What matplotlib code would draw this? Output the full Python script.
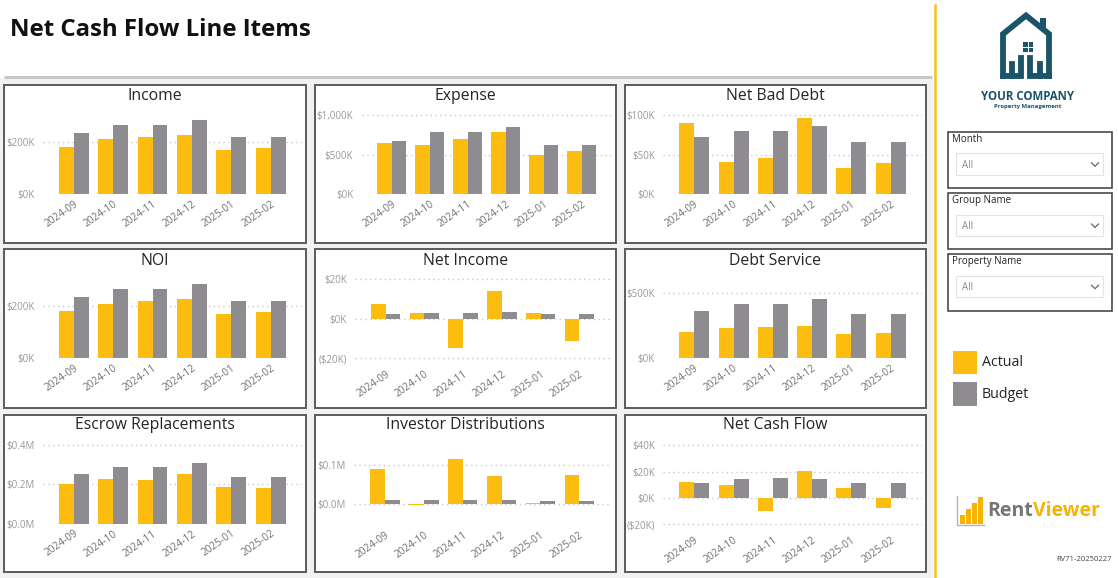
import matplotlib
matplotlib.use("Agg")
import matplotlib.pyplot as plt
import matplotlib.ticker as mticker
from matplotlib.patches import Rectangle
import numpy as np

plt.rcParams['font.family'] = ['Open Sans', 'DejaVu Sans']

# ---------------- data ----------------
months = ['2024-09', '2024-10', '2024-11', '2024-12', '2025-01', '2025-02']

income_actual = [180, 209, 218, 225, 168, 176]          # $K
income_budget = [232, 262, 262, 281, 218, 218]
expense_actual = [646, 628, 704, 785, 501, 548]          # $K
expense_budget = [671, 785, 785, 848, 628, 628]
bad_debt_actual = [90.2, 40.5, 46.3, 96.6, 33.7, 39.6]   # $K
bad_debt_budget = [72.1, 80.5, 80.5, 86.0, 66.6, 66.6]
noi_actual = [180, 209, 219, 227, 169, 176]              # $K
noi_budget = [233, 264, 264, 283, 219, 219]
net_income_actual = [7.6, 3.0, -15.0, 14.2, 2.7, -11.4]  # $K
net_income_budget = [2.4, 3.0, 3.0, 3.5, 2.4, 2.4]
debt_service_actual = [198, 228, 238, 246, 185, 193]     # $K
debt_service_budget = [360, 411, 411, 449, 339, 339]
escrow_actual = [0.203, 0.228, 0.222, 0.253, 0.186, 0.181]  # $M
escrow_budget = [0.250, 0.286, 0.286, 0.309, 0.235, 0.235]
investor_actual = [0.090, -0.002, 0.1145, 0.0704, 0.0025, 0.0738]  # $M
investor_budget = [0.0093, 0.0102, 0.0102, 0.0102, 0.0085, 0.0085]
ncf_actual = [12.2, 9.6, -10.1, 20.3, 7.6, -7.9]         # $K
ncf_budget = [11.2, 14.4, 15.5, 14.4, 11.2, 11.7]

titles = ['Income', 'Expense', 'Net Bad Debt', 'NOI', 'Net Income', 'Debt Service',
          'Escrow Replacements', 'Investor Distributions', 'Net Cash Flow']
actuals = [income_actual, expense_actual, bad_debt_actual, noi_actual, net_income_actual,
           debt_service_actual, escrow_actual, investor_actual, ncf_actual]
budgets = [income_budget, expense_budget, bad_debt_budget, noi_budget, net_income_budget,
           debt_service_budget, escrow_budget, investor_budget, ncf_budget]
units = ['K', 'K', 'K', 'K', 'K', 'K', 'M', 'M', 'K']
yticks = [[0, 200], [0, 500, 1000], [0, 50, 100], [0, 200], [-20, 0, 20], [0, 500],
          [0, 0.2, 0.4], [0, 0.1], [-20, 0, 20, 40]]
legend_labels = ['Actual', 'Budget']

# ---------------- layout (pixels) ----------------
W, H = 1118, 578
YELLOW = '#FDBD10'
GRAY = '#8E8C91'
TEAL = '#1B5468'

col_box = [(4, 305.7), (314.7, 616), (624.7, 926)]
row_box = [(85, 242.5), (249.3, 407.6), (414.7, 571.5)]
title_y = [95.7, 260.7, 424.7]
axes_px = [  # left, top, right, bottom
    (42.7, 110, 301.7, 194.3), (361.7, 110, 611.7, 194.3), (663.3, 110, 921.7, 194.3),
    (42.7, 274, 301.7, 358.3), (355, 274, 610, 364.3), (663.3, 274, 921.7, 358.3),
    (42.7, 440, 301.7, 524.0), (354.3, 440, 610, 525.6), (663.3, 440, 921.7, 530.6),
]
ylims = [(0, 320), (0, 1067), (0, 106.7), (0, 322), (-23.1, 22.6), (0, 642),
         (0, 0.423), (-0.055, 0.163), (-24.8, 44.1)]

fig = plt.figure(figsize=(W / 100, H / 100), dpi=100)
fig.patch.set_facecolor('white')

bg = fig.add_axes([0, 0, 1, 1])
bg.set_xlim(0, W)
bg.set_ylim(H, 0)
bg.axis('off')
bg.set_zorder(-1)

# canvas background for report area
bg.add_patch(Rectangle((0, 78), 933, H - 78, facecolor='#F2F2F2', edgecolor='none'))
bg.plot([4, 932], [76.5, 76.5], color='#C8C8C8', lw=2.2, solid_capstyle='butt')
bg.plot([935, 935], [5, H], color='#F6C21C', lw=1.8)
bg.text(10, 30, 'Net Cash Flow Line Items', fontsize=17.3, fontweight='bold',
        color='#111111', va='center', ha='left')


def fmt_factory(unit):
    def f(v, pos):
        if unit == 'M':
            s = f"${abs(v):.1f}M"
        else:
            s = f"${abs(v):,.0f}K"
        return f"({s})" if v < -1e-9 else s
    return f


x = np.arange(len(months))
bw = 0.38
for i in range(9):
    r, c = divmod(i, 3)
    bx0, bx1 = col_box[c]
    by0, by1 = row_box[r]
    bg.add_patch(Rectangle((bx0, by0), bx1 - bx0, by1 - by0, facecolor='white',
                           edgecolor='#5A5A5A', lw=1.4))
    bg.text((bx0 + bx1) / 2, title_y[r], titles[i], fontsize=11.3, color='#252423',
            ha='center', va='center')
    l, t, rr, b = axes_px[i]
    ax = fig.add_axes([l / W, 1 - b / H, (rr - l) / W, (b - t) / H])
    ax.set_facecolor('none')
    ax.bar(x - bw / 2, actuals[i], bw, color=YELLOW, zorder=3)
    ax.bar(x + bw / 2, budgets[i], bw, color=GRAY, zorder=3)
    ax.set_xlim(-0.79, 5.79)
    ax.set_ylim(*ylims[i])
    ax.set_yticks(yticks[i])
    ax.yaxis.set_major_formatter(mticker.FuncFormatter(fmt_factory(units[i])))
    ax.set_xticks(x)
    ax.set_xticklabels(months, rotation=35, ha='right', va='top', rotation_mode='anchor')
    ax.tick_params(axis='x', length=0, pad=3, labelsize=7.3, labelcolor='#707070')
    ax.tick_params(axis='y', length=0, pad=6, labelsize=7, labelcolor='#999999')
    ax.yaxis.grid(True, linestyle=(0, (1, 2.5)), color='#C8C8C8', lw=1, zorder=0)
    ax.xaxis.grid(False)
    for s in ax.spines.values():
        s.set_visible(False)

# ---------------- sidebar ----------------
# house logo
lw_h = 4.2
bg.plot([1003, 1003, 1026, 1049, 1049], [76, 34, 15.5, 34, 76], color=TEAL, lw=lw_h,
        solid_joinstyle='miter')
bg.add_patch(Rectangle((1040, 18), 5.5, 12, facecolor=TEAL, edgecolor='none'))
bg.plot([1003, 1021, 1021], [76, 76, 58], color=TEAL, lw=lw_h, solid_joinstyle='miter')
bg.plot([1030, 1030, 1049], [58, 76, 76], color=TEAL, lw=lw_h, solid_joinstyle='miter')
bg.plot([1012, 1012], [76, 64], color=TEAL, lw=lw_h)
bg.plot([1040, 1040], [76, 64], color=TEAL, lw=lw_h)
for wx in (1023, 1028.5):
    for wy in (42, 47.5):
        bg.add_patch(Rectangle((wx, wy), 4.5, 4.5, facecolor=TEAL, edgecolor='none'))
bg.text(1028, 96, 'YOUR COMPANY', fontsize=8.3, fontweight='bold', color=TEAL,
        ha='center', va='center')
bg.text(1028, 106.5, 'Property Management', fontsize=4.3, fontweight='bold', color=TEAL,
        ha='center', va='center')

# slicers
for k, name in enumerate(['Month', 'Group Name', 'Property Name']):
    oy = 61.2 * k
    bg.add_patch(Rectangle((947.7, 131.7 + oy), 164.6, 56.6, facecolor='white',
                           edgecolor='#4A4A4A', lw=1.2))
    bg.text(951.7, 139.5 + oy, name, fontsize=7, color='#222222', ha='left', va='center')
    bg.add_patch(Rectangle((956, 153.3 + oy), 147, 21.7, facecolor='white',
                           edgecolor='#E4E4E4', lw=0.8))
    bg.text(961.5, 165.5 + oy, 'All', fontsize=7, color='#8A8A8A', ha='left', va='center')
    bg.plot([1091.5, 1095, 1098.5], [162.8 + oy, 166.3 + oy, 162.8 + oy],
            color='#666666', lw=0.9)

# legend
for k, (lab, colr) in enumerate(zip(legend_labels, [YELLOW, GRAY])):
    y0 = 350.7 + 31.6 * k
    bg.add_patch(Rectangle((953.3, y0), 24, 23.5, facecolor=colr, edgecolor='none'))
    bg.text(982, y0 + 12, lab, fontsize=10.3, color='#252423', ha='left', va='center')

# RentViewer logo
bg.plot([957, 957, 984], [496, 525, 525], color='#B5B5B5', lw=1.0)
for k, hgt in enumerate([9, 15, 21, 27]):
    bg.add_patch(Rectangle((960 + 6 * k, 523.5 - hgt), 4.6, hgt, facecolor='#F6B400',
                           edgecolor='none'))
bg.text(987, 511.5, 'Rent', fontsize=14, fontweight='bold', color='#767676',
        ha='left', va='center')
bg.text(1033, 511.5, 'Viewer', fontsize=14, fontweight='bold', color='#F6B400',
        ha='left', va='center')
bg.text(1112, 559.5, 'RV71-20250227', fontsize=5.5, color='#444444', ha='right',
        va='center')

fig.savefig('out.png', dpi=100, facecolor=fig.get_facecolor())
